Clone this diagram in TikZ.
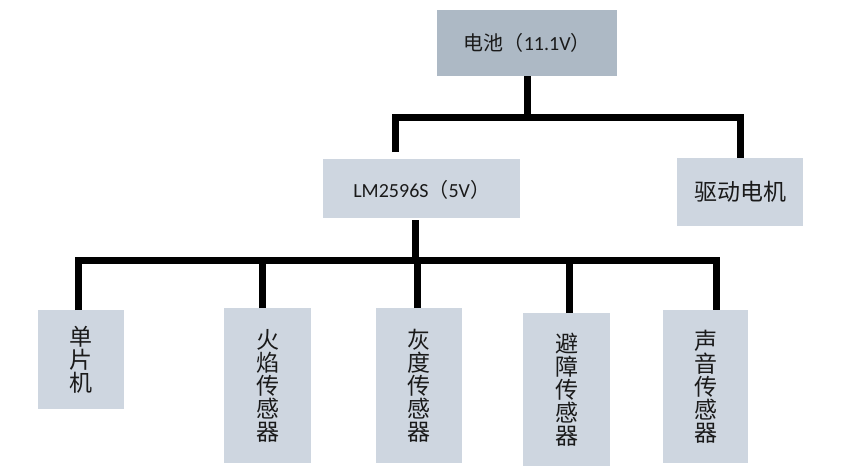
\documentclass[tikz,border=0pt]{standalone}
\usepackage{fontspec}
\setmainfont{Carlito}
\newfontfamily\cjk{Noto Sans CJK SC}
\definecolor{boxA}{HTML}{CED6E0}
\definecolor{boxB}{HTML}{ADB9C5}
\definecolor{txt}{HTML}{1A1A1A}
\tikzset{
  box/.style={fill=boxA, draw=none, inner sep=0pt, anchor=north west, text=txt},
  hbox/.style={box, font=\fontsize{20}{24}\selectfont},
  vbox/.style={box, align=center, font=\cjk\fontsize{23}{23}\selectfont},
  wire/.style={line width=7pt, line join=miter, line cap=butt, draw=black}
}
\begin{document}
\begin{tikzpicture}[x=1pt,y=-1pt]
\useasboundingbox[fill=white] (0,0) rectangle (856,476);
% top level
\node[hbox, fill=boxB, minimum width=180pt, minimum height=66pt] (bat) at (437,10) {{\cjk 电池（}11.1V{\cjk ）}};
\node[hbox, minimum width=197pt, minimum height=59pt, text depth=-6pt] (lm) at (323,159) {LM2596S{\cjk （}5V{\cjk ）}};
\node[hbox, minimum width=126pt, minimum height=68pt, font=\cjk\fontsize{23}{26}\selectfont] (mot) at (677,158) {驱动电机};
% sensors
\node[vbox, minimum width=86pt, minimum height=99pt] (s1) at (38,310) {单\\片\\机};
\node[vbox, minimum width=87pt, minimum height=155pt] (s2) at (224,308) {火\\焰\\传\\感\\器};
\node[vbox, minimum width=86pt, minimum height=155pt] (s3) at (376,308) {灰\\度\\传\\感\\器};
\node[vbox, minimum width=87pt, minimum height=153pt] (s4) at (523,313) {避\\障\\传\\感\\器};
\node[vbox, minimum width=85pt, minimum height=153pt] (s5) at (663,310) {声\\音\\传\\感\\器};
% bus coordinates
\coordinate (bus1) at (0,118);
\coordinate (bus2) at (0,260);
% upper connectors
\draw[wire] (bat.south) -- (bat.south |- bus1);
\draw[wire] ([xshift=-26.5pt,yshift=7pt]lm.north) |- (mot.north |- bus1) -- (mot.north);
% lower connectors
\draw[wire] ([xshift=-6pt,yshift=-2pt]lm.south) -- ([xshift=-6pt]lm.south |- bus2);
\draw[wire] ([xshift=-3pt]s1.north) |- ([xshift=10.5pt]s5.north |- bus2) -- ([xshift=10.5pt]s5.north);
\draw[wire] ([xshift=-5.5pt]s2.north) -- ([xshift=-5.5pt]s2.north |- bus2);
\draw[wire] ([xshift=-2pt]s3.north) -- ([xshift=-2pt]s3.north |- bus2);
\draw[wire] ([xshift=2.5pt]s4.north) -- ([xshift=2.5pt]s4.north |- bus2);
\end{tikzpicture}
\end{document}
